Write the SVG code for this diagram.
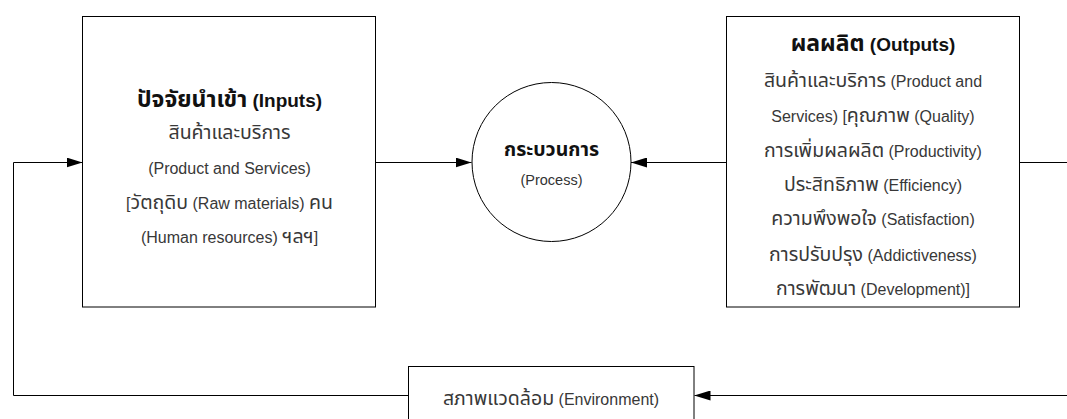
<svg xmlns="http://www.w3.org/2000/svg" width="1067" height="419" viewBox="0 0 1067 419">
<style>
.box{fill:#fff;stroke:#000;stroke-width:1}
.conn{fill:none;stroke:#000;stroke-width:1}
text{font-family:"Liberation Sans","Noto Sans Thai","Noto Sans",sans-serif;text-anchor:middle}
.title{font-size:19px;font-weight:bold;fill:#111}
.title .th{font-size:23px}
.body{font-size:16px;fill:#383838}
.body .th{font-size:19.5px}
.ptitle{font-size:19.5px;font-weight:bold;fill:#111}
.pbody{font-size:14.5px;fill:#333}
</style>
<defs>
<marker id="arr" markerUnits="userSpaceOnUse" markerWidth="16" markerHeight="10" refX="16" refY="5" orient="auto">
<path d="M0,0 L16,5 L0,10 z" fill="#000"/>
</marker>
</defs>
<rect width="1067" height="419" fill="#fff"/>
<g id="connectors">
<line class="conn" x1="376" y1="162.5" x2="471.5" y2="162.5" marker-end="url(#arr)"/>
<line class="conn" x1="726.5" y1="162.5" x2="631" y2="162.5" marker-end="url(#arr)"/>
<path class="conn" d="M408.5,395.5 H13.5 V162.5 H82.5" marker-end="url(#arr)"/>
<path class="conn" d="M1019.5,162.5 H1080 V395.5 H694.5" marker-end="url(#arr)"/>
</g>
<g id="inputs">
<rect class="box" x="82.5" y="16.5" width="293" height="290.5"/>
<text class="title" x="229.5" y="107"><tspan class="th">ปัจจัยนำเข้า</tspan> (Inputs)</text>
<text class="body" x="229.5" y="139"><tspan class="th">สินค้าและบริการ</tspan></text>
<text class="body" x="229.5" y="174">(Product and Services)</text>
<text class="body" x="229.5" y="209">[<tspan class="th">วัตถุดิบ</tspan> (Raw materials) <tspan class="th">คน</tspan></text>
<text class="body" x="229.5" y="243">(Human resources) <tspan class="th">ฯลฯ</tspan>]</text>
</g>
<g id="process">
<circle class="box" cx="551.5" cy="162" r="79.5"/>
<text class="ptitle" x="551.5" y="156">กระบวนการ</text>
<text class="pbody" x="551.5" y="185">(Process)</text>
</g>
<g id="outputs">
<rect class="box" x="726.5" y="16.5" width="293" height="290.5"/>
<text class="title" x="873" y="51"><tspan class="th">ผลผลิต</tspan> (Outputs)</text>
<text class="body" x="873" y="87"><tspan class="th">สินค้าและบริการ</tspan> (Product and</text>
<text class="body" x="873" y="122">Services) [<tspan class="th">คุณภาพ</tspan> (Quality)</text>
<text class="body" x="873" y="157"><tspan class="th">การเพิ่มผลผลิต</tspan> (Productivity)</text>
<text class="body" x="873" y="191"><tspan class="th">ประสิทธิภาพ</tspan> (Efficiency)</text>
<text class="body" x="873" y="225"><tspan class="th">ความพึงพอใจ</tspan> (Satisfaction)</text>
<text class="body" x="873" y="261"><tspan class="th">การปรับปรุง</tspan> (Addictiveness)</text>
<text class="body" x="873" y="295"><tspan class="th">การพัฒนา</tspan> (Development)]</text>
</g>
<g id="environment">
<rect class="box" x="408.5" y="366.5" width="285.5" height="80"/>
<text class="body" x="551" y="405"><tspan class="th">สภาพแวดล้อม</tspan> (Environment)</text>
</g>
</svg>
